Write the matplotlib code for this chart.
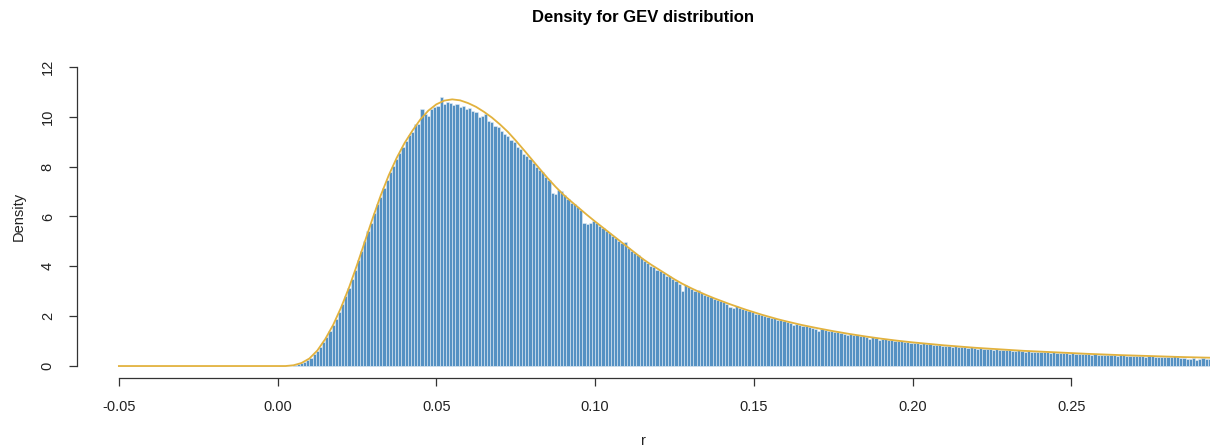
import matplotlib
matplotlib.use("Agg")
import matplotlib.pyplot as plt
import numpy as np

plt.rcParams['font.family'] = ['Liberation Sans', 'DejaVu Sans']

# Histogram: bin edges start at 0 with width 0.001
bin_start = 0.0
bin_width = 0.001
bar_heights = [
    0.00, 0.00, 0.00, 0.01, 0.02, 0.04, 0.07, 0.12, 0.18, 0.25,
    0.34, 0.47, 0.62, 0.78, 0.98, 1.18, 1.40, 1.63, 1.90, 2.18,
    2.50, 2.80, 3.12, 3.50, 3.86, 4.25, 4.62, 5.00, 5.40, 5.75,
    6.12, 6.50, 6.80, 7.15, 7.45, 7.78, 8.02, 8.30, 8.55, 8.80,
    9.02, 9.25, 9.38, 9.70, 9.72, 10.30, 10.10, 10.05, 10.32, 10.40,
    10.45, 10.80, 10.50, 10.60, 10.55, 10.48, 10.50, 10.40, 10.45, 10.30,
    10.35, 10.22, 10.18, 10.00, 10.05, 10.10, 9.85, 9.80, 9.62, 9.60,
    9.45, 9.30, 9.22, 9.05, 9.00, 8.80, 8.72, 8.50, 8.42, 8.30,
    8.15, 8.00, 7.85, 7.78, 7.60, 7.45, 6.95, 6.90, 7.05, 7.02,
    6.85, 6.70, 6.55, 6.50, 6.38, 6.28, 5.75, 5.70, 5.72, 5.80,
    5.72, 5.60, 5.55, 5.40, 5.35, 5.20, 5.15, 5.02, 4.92, 4.98,
    4.72, 4.62, 4.52, 4.45, 4.32, 4.22, 4.15, 4.02, 3.98, 3.85,
    3.82, 3.72, 3.62, 3.60, 3.48, 3.42, 3.30, 3.00, 3.25, 3.18,
    3.08, 3.02, 3.05, 2.92, 2.85, 2.80, 2.78, 2.70, 2.66, 2.60,
    2.58, 2.50, 2.38, 2.32, 2.40, 2.32, 2.28, 2.25, 2.20, 2.15,
    2.10, 2.08, 2.05, 2.00, 1.98, 1.92, 1.94, 1.86, 1.85, 1.80,
    1.78, 1.74, 1.65, 1.70, 1.64, 1.60, 1.62, 1.55, 1.52, 1.50,
    1.40, 1.48, 1.45, 1.42, 1.40, 1.38, 1.37, 1.33, 1.30, 1.24,
    1.28, 1.25, 1.24, 1.20, 1.19, 1.18, 1.10, 1.15, 1.12, 1.05,
    1.09, 1.07, 1.05, 1.04, 1.02, 1.00, 1.00, 0.97, 0.96, 0.94,
    0.93, 0.92, 0.90, 0.91, 0.88, 0.87, 0.84, 0.86, 0.83, 0.82,
    0.80, 0.82, 0.78, 0.80, 0.77, 0.76, 0.75, 0.72, 0.75, 0.72,
    0.70, 0.72, 0.68, 0.70, 0.68, 0.66, 0.67, 0.65, 0.66, 0.63,
    0.64, 0.62, 0.60, 0.63, 0.60, 0.58, 0.60, 0.57, 0.58, 0.56,
    0.57, 0.55, 0.56, 0.54, 0.55, 0.52, 0.54, 0.51, 0.52, 0.50,
    0.51, 0.49, 0.50, 0.48, 0.47, 0.49, 0.46, 0.47, 0.45, 0.46,
    0.44, 0.46, 0.43, 0.45, 0.42, 0.44, 0.43, 0.41, 0.42, 0.40,
    0.41, 0.39, 0.40, 0.38, 0.39, 0.40, 0.37, 0.38, 0.36, 0.38,
    0.35, 0.37, 0.42, 0.36, 0.34, 0.33, 0.30, 0.28, 0.31, 0.26,
    0.30, 0.32, 0.29, 0.30, 0.30,
]

# Fitted GEV density curve
curve_x = [
    -0.05, 0.0, 0.0025, 0.005, 0.0075, 0.010, 0.0125, 0.015, 0.0175, 0.020,
    0.0225, 0.025, 0.0275, 0.030, 0.0325, 0.035, 0.0375, 0.040, 0.0425, 0.045,
    0.0475, 0.050, 0.0525, 0.055, 0.0575, 0.060, 0.0625, 0.065, 0.0675, 0.070,
    0.0725, 0.075, 0.0775, 0.080, 0.0825, 0.085, 0.0875, 0.090, 0.0925, 0.095,
    0.0975, 0.100, 0.1025, 0.105, 0.1075, 0.110, 0.1125, 0.115, 0.1175, 0.120,
    0.1225, 0.125, 0.1275, 0.130, 0.1325, 0.135, 0.1375, 0.140, 0.1425, 0.145,
    0.1475, 0.150, 0.1525, 0.155, 0.1575, 0.160, 0.165, 0.170, 0.175, 0.180,
    0.185, 0.190, 0.195, 0.200, 0.205, 0.210, 0.215, 0.220, 0.225, 0.230,
    0.235, 0.240, 0.245, 0.250, 0.255, 0.260, 0.265, 0.270, 0.275, 0.280,
    0.285, 0.290, 0.295,
]
curve_y = [
    0.0, 0.0, 0.0, 0.03, 0.12, 0.30, 0.62, 1.08, 1.65, 2.35,
    3.15, 4.05, 5.00, 5.95, 6.85, 7.65, 8.35, 8.95, 9.45, 9.90,
    10.25, 10.50, 10.65, 10.70, 10.66, 10.55, 10.40, 10.20, 9.97, 9.70,
    9.40, 9.05, 8.68, 8.30, 7.92, 7.55, 7.20, 6.88, 6.60, 6.33,
    6.06, 5.80, 5.55, 5.30, 5.05, 4.80, 4.55, 4.30, 4.08, 3.88,
    3.68, 3.48, 3.30, 3.14, 2.99, 2.85, 2.72, 2.60, 2.48, 2.37,
    2.26, 2.16, 2.06, 1.97, 1.88, 1.80, 1.65, 1.52, 1.40, 1.29,
    1.19, 1.10, 1.02, 0.95, 0.89, 0.83, 0.78, 0.73, 0.69, 0.65,
    0.61, 0.58, 0.55, 0.52, 0.49, 0.465, 0.44, 0.42, 0.40, 0.38,
    0.36, 0.345, 0.33,
]

x_ticks = [-0.05, 0.00, 0.05, 0.10, 0.15, 0.20, 0.25]
x_tick_labels = ["-0.05", "0.00", "0.05", "0.10", "0.15", "0.20", "0.25"]
y_ticks = [0, 2, 4, 6, 8, 10, 12]

fig = plt.figure(figsize=(12.18, 4.46), dpi=100)
ax = fig.add_axes([0.0632, 0.1525, 0.9302, 0.7242])

left_edges = bin_start + bin_width * np.arange(len(bar_heights))
ax.bar(left_edges, bar_heights, width=bin_width, align='edge',
       color='#5591c3', edgecolor='#e4edf5', linewidth=0.4)
ax.plot(curve_x, curve_y, color='#e2b23e', linewidth=1.3)

ax.set_xlim(-0.0632, 0.2937)
ax.set_ylim(-0.48, 12.48)

for side in ('top', 'right'):
    ax.spines[side].set_visible(False)
ax.spines['bottom'].set_bounds(x_ticks[0], x_ticks[-1])
ax.spines['left'].set_bounds(y_ticks[0], y_ticks[-1])
for side in ('bottom', 'left'):
    ax.spines[side].set_color('#333333')
    ax.spines[side].set_linewidth(0.9)

ax.set_xticks(x_ticks)
ax.set_xticklabels(x_tick_labels)
ax.set_yticks(y_ticks)
ax.set_yticklabels([str(v) for v in y_ticks], rotation=90, va='center')
ax.tick_params(axis='both', direction='out', length=6, width=0.9,
               color='#333333', labelsize=10.5, labelcolor='#222222')
ax.tick_params(axis='x', pad=10)
ax.tick_params(axis='y', pad=10)

ax.set_xlabel('r', fontsize=10.5, color='#222222', labelpad=14)
ax.set_ylabel('Density', fontsize=10.5, color='#222222', labelpad=11)
ax.set_title('Density for GEV distribution', fontsize=12,
             fontweight='bold', pad=24)

fig.savefig('out.png', dpi=100)
